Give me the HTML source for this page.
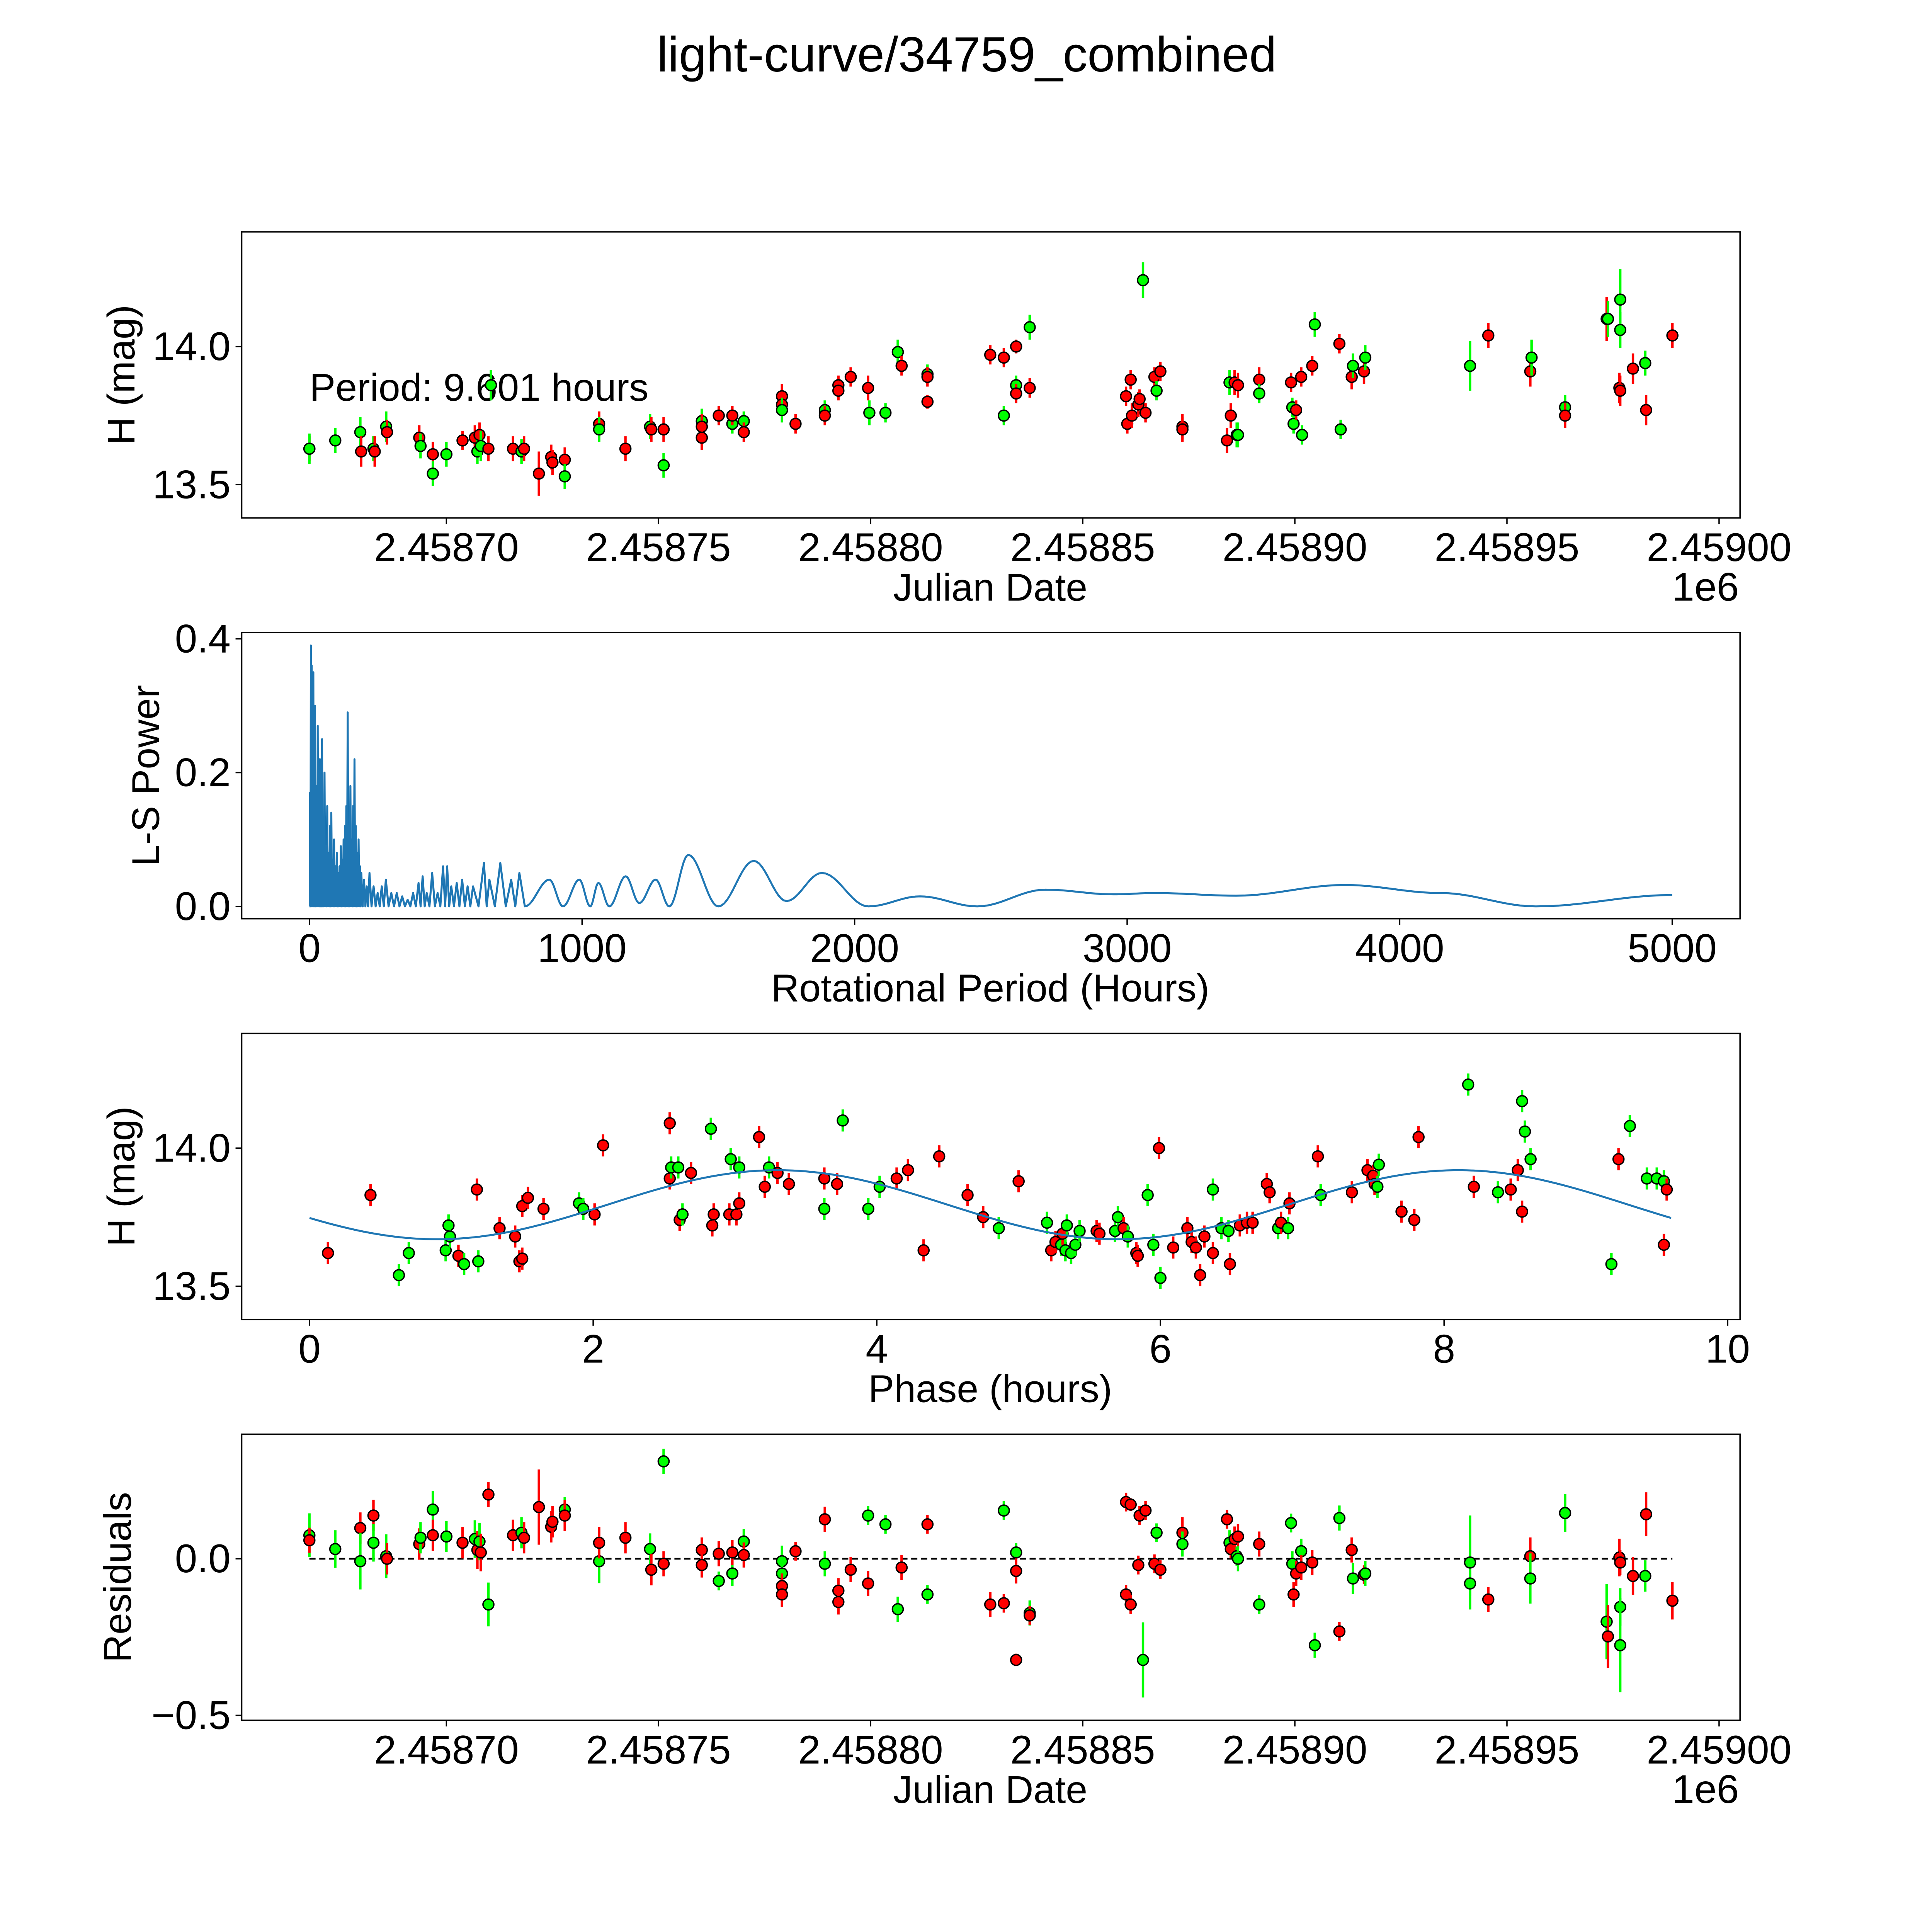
<!DOCTYPE html>
<html><head><meta charset="utf-8"><style>
html,body{margin:0;padding:0;background:#fff;width:5400px;height:5400px;overflow:hidden}
svg{display:block;position:absolute;left:0;top:0}
text{font-family:"Liberation Sans","DejaVu Sans",sans-serif;fill:#000}
</style></head><body>
<svg id="fig" xmlns="http://www.w3.org/2000/svg" width="5400" height="5400" viewBox="0 0 1692 1692">
<rect x="0" y="0" width="1692" height="1692" fill="#fff"/>
<text x="784" y="58" font-size="40" text-anchor="middle">light-curve/34759_combined</text>
</svg>
<script>
// ---- Panel 1 data: day offset from 2458700, mag, error, filter ----
const lcDays=[-3.23,-3.23,-2.62,-2.03,-2.01,-1.72,-1.69,-1.42,-1.40,-0.64,-0.61,-0.32,-0.32,0,0.38,0.67,0.73,0.78,0.81,0.99,1.05,1.57,1.77,1.83,2.18,2.47,2.50,2.79,2.79,3.60,3.60,4.22,4.80,4.83,5.12,5.12,6.02,6.02,6.02,6.42,6.74,6.74,7.01,7.01,7.91,7.91,7.91,8.23,8.92,8.92,9.24,9.24,9.53,9.94,9.97,10.35,10.64,10.73,11.34,11.34,11.34,12.82,13.14,13.14,13.43,13.43,13.43,13.75,13.75,16.02,16.05,16.13,16.16,16.31,16.34,16.42,16.48,16.69,16.74,16.83,17.35,17.35,18.40,18.46,18.49,18.58,18.63,18.66,18.66,19.16,19.16,19.91,19.94,19.97,20.03,20.15,20.17,20.41,20.47,21.05,21.08,21.34,21.37,21.63,21.66,24.13,24.56,25.55,25.58,26.37,26.37,27.35,27.38,27.65,27.67,27.67,27.67,27.97,28.26,28.28,28.90];
const lcMag=[13.63,13.63,13.66,13.69,13.62,13.63,13.62,13.71,13.69,13.67,13.64,13.61,13.54,13.61,13.66,13.67,13.62,13.68,13.64,13.63,13.86,13.63,13.62,13.63,13.54,13.60,13.58,13.59,13.53,13.72,13.70,13.63,13.71,13.70,13.70,13.57,13.73,13.71,13.67,13.75,13.72,13.75,13.73,13.69,13.82,13.79,13.77,13.72,13.77,13.75,13.86,13.84,13.89,13.85,13.76,13.76,13.98,13.93,13.90,13.89,13.80,13.97,13.96,13.75,14.00,13.86,13.83,14.07,13.85,13.82,13.72,13.88,13.75,13.79,13.81,14.24,13.76,13.89,13.84,13.91,13.71,13.70,13.66,13.87,13.75,13.87,13.68,13.68,13.86,13.88,13.83,13.87,13.78,13.72,13.77,13.89,13.68,13.93,14.08,14.01,13.70,13.89,13.93,13.91,13.96,13.93,14.04,13.91,13.96,13.78,13.75,14.10,14.10,13.85,13.84,14.17,14.06,13.92,13.94,13.77,14.04];
const lcErr=[0.045,0.055,0.045,0.055,0.055,0.045,0.055,0.055,0.045,0.045,0.045,0.045,0.045,0.045,0.035,0.045,0.045,0.045,0.055,0.045,0.055,0.045,0.045,0.045,0.08,0.045,0.045,0.045,0.045,0.045,0.045,0.045,0.045,0.045,0.045,0.045,0.045,0.045,0.045,0.035,0.035,0.035,0.035,0.035,0.045,0.045,0.045,0.035,0.035,0.035,0.035,0.035,0.035,0.045,0.045,0.035,0.045,0.035,0.035,0.035,0.025,0.035,0.035,0.035,0.025,0.035,0.035,0.045,0.035,0.035,0.035,0.035,0.045,0.045,0.035,0.065,0.035,0.035,0.035,0.035,0.045,0.045,0.045,0.045,0.045,0.045,0.045,0.045,0.045,0.045,0.035,0.035,0.035,0.035,0.035,0.035,0.035,0.035,0.045,0.035,0.035,0.045,0.045,0.045,0.045,0.09,0.045,0.055,0.065,0.045,0.045,0.08,0.065,0.055,0.055,0.11,0.065,0.055,0.045,0.055,0.045];
const lcBand=["r","g","g","g","r","g","r","g","r","r","g","r","g","g","r","r","g","r","g","r","g","r","g","r","r","r","r","r","g","r","g","r","g","r","r","g","g","r","r","r","g","r","g","r","r","r","g","r","g","r","r","r","r","r","g","g","g","r","g","r","r","r","r","g","r","g","r","g","r","r","r","r","r","r","r","g","r","r","g","r","r","r","r","g","r","r","g","g","r","r","g","r","g","g","r","r","g","r","g","r","g","r","g","r","g","g","r","r","g","g","r","r","g","r","r","g","g","r","g","r","r"];
// ---- Panel 2: Lomb-Scargle ----
const lsSpikeH=[2,5,8,11,14,17,20,23,26,30,34,38,42,46,50,55,60,65,70,75,80,85,90,95,100,105,110,115,120,125,130,135,140,145,150,155,160,165,170,175,180,185,190,200,210,220,235,250,265,280,300,320,340,360,380,400,415,430,450,470,490,505,520,540,560,580,600,640,660,700,740,770];
const lsSpikeP=[0.17,0.39,0.36,0.22,0.35,0.25,0.30,0.18,0.12,0.27,0.15,0.22,0.10,0.25,0.12,0.20,0.09,0.15,0.08,0.12,0.14,0.07,0.10,0.06,0.08,0.05,0.06,0.09,0.07,0.10,0.12,0.15,0.29,0.12,0.18,0.10,0.15,0.22,0.12,0.08,0.10,0.06,0.05,0.04,0.03,0.05,0.03,0.02,0.03,0.04,0.02,0.02,0.015,0.01,0.02,0.035,0.045,0.02,0.05,0.02,0.06,0.06,0.03,0.035,0.04,0.03,0.03,0.065,0.04,0.065,0.04,0.05];
const lsSmoothH=[790,880,930,990,1030,1060,1100,1160,1210,1270,1320,1390,1500,1630,1750,1880,2050,2240,2450,2700,2950,3100,3400,3800,4150,4500,5000];
const lsSmoothP=[0.0,0.04,0.0,0.04,0.0,0.035,0.0,0.045,0.005,0.04,0.0,0.077,0.0,0.068,0.008,0.05,0.0,0.015,0.0,0.025,0.018,0.02,0.016,0.032,0.02,0.0,0.017];
const lsTicksX=[0,1000,2000,3000,4000,5000], lsTicksY=[0.0,0.2,0.4];
// ---- Panel 3: phase folded ----
const phHours=[0.13,0.43,0.63,0.70,0.96,0.98,0.99,1.05,1.09,1.18,1.19,1.34,1.45,1.48,1.50,1.50,1.54,1.65,1.90,1.93,2.01,2.07,2.54,2.54,2.55,2.60,2.61,2.63,2.69,2.83,2.84,2.85,2.96,2.97,3.01,3.03,3.03,3.17,3.21,3.24,3.30,3.38,3.63,3.63,3.72,3.76,3.94,4.02,4.14,4.22,4.33,4.44,4.64,4.75,4.86,5.00,5.20,5.23,5.26,5.30,5.31,5.33,5.34,5.37,5.40,5.43,5.55,5.57,5.68,5.70,5.74,5.77,5.83,5.84,5.91,5.95,5.99,6.00,6.09,6.19,6.22,6.25,6.28,6.31,6.37,6.37,6.43,6.48,6.49,6.56,6.61,6.65,6.75,6.77,6.83,6.85,6.90,6.91,7.11,7.13,7.35,7.46,7.50,7.51,7.53,7.54,7.70,7.79,7.82,8.17,8.21,8.38,8.47,8.52,8.55,8.55,8.57,8.61,9.18,9.23,9.31,9.43,9.50,9.55,9.55,9.57];
const phMag=[13.62,13.83,13.54,13.62,13.63,13.72,13.68,13.61,13.58,13.85,13.59,13.71,13.68,13.59,13.60,13.79,13.82,13.78,13.80,13.78,13.76,14.01,14.09,13.89,13.93,13.93,13.74,13.76,13.91,14.07,13.72,13.76,13.76,13.96,13.76,13.93,13.80,14.04,13.86,13.93,13.91,13.87,13.78,13.89,13.87,14.10,13.78,13.86,13.89,13.92,13.63,13.97,13.83,13.75,13.71,13.88,13.73,13.63,13.66,13.65,13.69,13.63,13.72,13.62,13.65,13.70,13.70,13.69,13.70,13.75,13.71,13.68,13.62,13.61,13.83,13.65,14.00,13.53,13.64,13.71,13.66,13.64,13.54,13.68,13.85,13.62,13.71,13.70,13.58,13.72,13.73,13.73,13.87,13.84,13.71,13.73,13.71,13.80,13.97,13.83,13.84,13.92,13.90,13.87,13.86,13.94,13.77,13.74,14.04,14.23,13.86,13.84,13.85,13.92,13.77,14.17,14.06,13.96,13.58,13.96,14.08,13.89,13.89,13.88,13.65,13.85];
const phBand=["r","r","g","g","g","g","g","r","g","r","g","r","r","r","r","r","r","r","g","g","r","r","r","r","g","g","r","g","r","g","r","r","r","g","r","g","r","r","r","g","r","r","g","r","r","g","g","g","r","r","r","r","r","r","g","r","g","r","r","g","r","g","g","g","g","g","r","r","g","g","r","g","r","r","g","g","r","g","r","r","r","r","r","r","g","r","g","g","r","r","r","r","r","r","g","r","g","r","r","g","r","r","r","r","g","g","r","r","r","g","r","g","r","r","r","g","g","g","g","r","g","g","g","g","r","r"];
const phErr=0.04;
const modelMean=[13.795], modelAmp=[0.125], modelPeak=[3.3], modelPeriod=[9.601];
// ---- Panel 4: residuals ----
const rsDays=[-3.23,-3.23,-2.62,-2.03,-2.03,-1.72,-1.72,-1.42,-1.40,-0.64,-0.61,-0.32,-0.32,0,0.38,0.67,0.73,0.78,0.81,0.99,0.99,1.57,1.77,1.83,2.18,2.47,2.50,2.79,2.79,3.60,3.60,4.22,4.80,4.83,5.12,5.12,6.02,6.02,6.42,6.42,6.74,6.74,7.01,7.01,7.91,7.91,7.91,7.91,8.23,8.92,8.92,9.24,9.24,9.53,9.94,9.94,10.35,10.73,10.64,11.34,11.34,12.82,13.14,13.14,13.43,13.43,13.43,13.75,13.75,16.02,16.02,16.13,16.13,16.31,16.34,16.42,16.48,16.69,16.74,16.83,17.35,17.35,18.40,18.46,18.49,18.58,18.63,18.66,18.66,19.16,19.16,19.91,19.94,19.97,20.03,20.15,20.15,20.41,20.47,21.05,21.05,21.34,21.37,21.63,21.66,24.13,24.13,24.56,25.55,25.55,26.37,26.37,27.35,27.38,27.65,27.67,27.67,27.67,27.97,28.26,28.28,28.90];
const rsVal=[0.075,0.059,0.031,0.098,-0.008,0.138,0.051,0.008,0.0,0.047,0.067,0.157,0.075,0.071,0.051,0.063,0.028,0.055,0.020,0.205,-0.146,0.075,0.083,0.067,0.165,0.102,0.118,0.157,0.138,-0.008,0.051,0.067,0.031,-0.035,0.311,-0.016,0.028,-0.020,-0.071,0.016,-0.047,0.020,0.055,0.012,-0.008,-0.047,-0.087,-0.114,0.024,0.126,-0.016,-0.102,-0.138,-0.035,0.138,-0.079,0.110,-0.028,-0.161,0.110,-0.114,-0.146,-0.142,0.154,0.020,-0.039,-0.323,-0.173,-0.181,0.181,-0.114,0.173,-0.146,-0.020,0.138,-0.323,0.154,-0.016,0.083,-0.035,0.083,0.047,0.126,0.051,0.031,0.063,0.008,0.071,0.0,0.047,-0.146,0.114,-0.016,-0.114,-0.047,0.024,-0.028,-0.012,-0.276,0.130,-0.232,0.028,-0.063,-0.051,-0.047,-0.012,-0.079,-0.130,0.008,-0.063,0.146,0.146,-0.201,-0.248,0.004,-0.154,-0.276,-0.012,-0.055,-0.055,0.142,-0.134];
const rsBand=["g","r","g","r","g","r","g","g","r","r","g","g","r","g","r","g","r","g","r","r","g","r","g","r","r","r","r","g","r","g","r","r","g","r","g","r","r","r","g","r","g","r","g","r","g","g","r","r","r","r","g","r","r","r","g","r","g","r","g","r","g","r","r","g","g","r","r","g","r","r","r","r","r","r","r","g","r","r","g","r","r","g","r","g","r","r","g","r","g","r","g","g","g","r","r","g","r","r","g","g","r","r","g","r","g","g","g","r","r","g","r","g","g","r","r","g","g","r","r","g","r","r"];
const rsErr=[0.07,0.04,0.06,0.05,0.09,0.05,0.06,0.07,0.05,0.05,0.05,0.06,0.05,0.05,0.05,0.06,0.06,0.06,0.06,0.04,0.07,0.05,0.05,0.05,0.12,0.05,0.05,0.04,0.05,0.07,0.05,0.05,0.05,0.05,0.04,0.04,0.04,0.04,0.03,0.04,0.04,0.04,0.04,0.04,0.05,0.05,0.04,0.04,0.03,0.04,0.04,0.04,0.04,0.04,0.03,0.04,0.03,0.04,0.04,0.03,0.03,0.04,0.03,0.03,0.03,0.04,0.02,0.04,0.03,0.03,0.03,0.02,0.03,0.03,0.03,0.12,0.03,0.03,0.03,0.03,0.05,0.04,0.03,0.04,0.03,0.04,0.03,0.04,0.04,0.04,0.03,0.03,0.04,0.04,0.04,0.04,0.04,0.04,0.04,0.04,0.03,0.04,0.05,0.03,0.04,0.15,0.04,0.04,0.06,0.08,0.06,0.06,0.12,0.1,0.06,0.06,0.15,0.04,0.06,0.05,0.07,0.06];
const jdTicks=[0,5,10,15,20,25,30], jdTickLabels=["2.45870","2.45875","2.45880","2.45885","2.45890","2.45895","2.45900"];

const NS="http://www.w3.org/2000/svg";
const svg=document.getElementById('fig');
function mk(tag,attrs,parent){const e=document.createElementNS(NS,tag);for(const k in attrs)e.setAttribute(k,attrs[k]);(parent||svg).appendChild(e);return e;}
const RED="#ff0000", GRN="#00ff00";
const TF=32.5, LF=31.5;

function axesFrame(name){
  const g=mk('g',{});
  
  
  return g;
}
function frameRect(g,x0,y0,x1,y1){
  const r=mk('rect',{x:x0,y:y0,width:x1-x0,height:y1-y0,fill:'none',stroke:'#000','stroke-width':1.1},g);
  
  
}
function xTick(g,px,y1,label){
  const l=mk('line',{x1:px,x2:px,y1:y1,y2:y1+5,stroke:'#000','stroke-width':1.1},g);
  
  
  const t=mk('text',{x:px,y:y1+35,'font-size':TF,'text-anchor':'middle'},g);
  t.textContent=label;
  
  
}
function yTick(g,py,x0,label){
  const l=mk('line',{x1:x0-5,x2:x0,y1:py,y2:py,stroke:'#000','stroke-width':1.1},g);
  
  
  const t=mk('text',{x:x0-9,y:py+11,'font-size':TF,'text-anchor':'end'},g);
  t.textContent=label;
  
  
}
function labels(g,xl,yl,cx,xy,yx,cy){
  const t=mk('text',{x:cx,y:xy,'font-size':LF,'text-anchor':'middle'},g);
  t.textContent=xl;
  
  
  const u=mk('text',{x:yx,y:cy,'font-size':LF,'text-anchor':'middle',transform:`rotate(-90 ${yx} ${cy})`},g);
  u.textContent=yl;
  
  
}
function point(g,px,py,perr,band,name){
  const col=band==="r"?RED:GRN;
  const e=mk('line',{x1:px,x2:px,y1:py-perr,y2:py+perr,stroke:col,'stroke-width':2},g);
  
  
  const c=mk('circle',{cx:px,cy:py,r:4.4,fill:col,stroke:'#000','stroke-width':1.1},g);
  
  
}

const L=196,R=1411;
// ---------- Panel 1 ----------
(function(){
  const T=188,B=420;
  const xs=d=>362+d*34.4, ys=m=>281-(m-14)*224;
  const g=axesFrame('light-curve-panel');
  jdTicks.forEach((d,i)=>xTick(g,xs(d),B,jdTickLabels[i]));
  [13.5,14.0].forEach(v=>yTick(g,ys(v),L,v.toFixed(1)));
  labels(g,'Julian Date','H (mag)',803,487,109,(T+B)/2);
  const o=mk('text',{x:1383,y:487,'font-size':TF,'text-anchor':'middle'},g);
  o.textContent='1e6';
  
  
  const p=mk('text',{x:251,y:325,'font-size':31.5},g);
  p.textContent='Period: 9.601 hours';
  
  
  lcDays.forEach((d,i)=>point(g,xs(d),ys(lcMag[i]),lcErr[i]*224,lcBand[i],'lc-point'));
  frameRect(g,L,T,R,B);
})();
// ---------- Panel 2 ----------
(function(){
  const T=513,B=745;
  const xs=h=>251+h*0.221, ys=p=>735-p*542.5;
  const g=axesFrame('periodogram-panel');
  lsTicksX.forEach(v=>xTick(g,xs(v),B,String(v)));
  lsTicksY.forEach(v=>yTick(g,ys(v),L,v.toFixed(1)));
  labels(g,'Rotational Period (Hours)','L-S Power',803,812,129,(T+B)/2);
  let d=`M${xs(0)},${ys(0)}`;
  lsSpikeH.forEach((h,i)=>{const prev=i?lsSpikeH[i-1]:0;const mid=(prev+h)/2;
    d+=` L${xs(mid)},${ys(0)} L${xs(h)},${ys(lsSpikeP[i])}`;});
  d+=` L${xs(lsSmoothH[0])},${ys(lsSmoothP[0])}`;
  for(let i=1;i<lsSmoothH.length;i++){
    const h0=lsSmoothH[i-1],h1=lsSmoothH[i],p0=lsSmoothP[i-1],p1=lsSmoothP[i];
    for(let k=1;k<=12;k++){const t=k/12;const w=(1-Math.cos(Math.PI*t))/2;
      d+=` L${xs(h0+(h1-h0)*t).toFixed(2)},${ys(p0+(p1-p0)*w).toFixed(2)}`;}
  }
  const path=mk('path',{d:d,fill:'none',stroke:'#1f77b4','stroke-width':1.6,'stroke-linejoin':'round'},g);
  
  
  frameRect(g,L,T,R,B);
})();
// ---------- Panel 3 ----------
(function(){
  const T=838,B=1070;
  const xs=h=>251+h*115, ys=m=>931-(m-14)*224;
  const g=axesFrame('phase-folded-panel');
  [0,2,4,6,8,10].forEach(v=>xTick(g,xs(v),B,String(v)));
  [13.5,14.0].forEach(v=>yTick(g,ys(v),L,v.toFixed(1)));
  labels(g,'Phase (hours)','H (mag)',803,1137,109,(T+B)/2);
  phHours.forEach((h,i)=>point(g,xs(h),ys(phMag[i]),phErr*224,phBand[i],'phase-point'));
  let d='';
  for(let k=0;k<=200;k++){const h=modelPeriod[0]*k/200;
    const m=modelMean[0]+modelAmp[0]*Math.cos(2*Math.PI*(h-modelPeak[0])/(modelPeriod[0]/2));
    d+=(k?' L':'M')+xs(h).toFixed(2)+','+ys(m).toFixed(2);}
  const path=mk('path',{d:d,fill:'none',stroke:'#1f77b4','stroke-width':1.6},g);
  
  
  frameRect(g,L,T,R,B);
})();
// ---------- Panel 4 ----------
(function(){
  const T=1163,B=1395;
  const xs=d=>362+d*34.4, ys=r=>1264-r*254;
  const g=axesFrame('residuals-panel');
  jdTicks.forEach((d,i)=>xTick(g,xs(d),B,jdTickLabels[i]));
  yTick(g,ys(-0.5),L,'\u22120.5'); yTick(g,ys(0),L,'0.0');
  labels(g,'Julian Date','Residuals',803,1462,106,(T+B)/2);
  const o=mk('text',{x:1383,y:1462,'font-size':TF,'text-anchor':'middle'},g);
  o.textContent='1e6';
  
  
  const z=mk('line',{x1:xs(lcDays[0]),x2:xs(lcDays[lcDays.length-1]),y1:ys(0),y2:ys(0),stroke:'#000','stroke-width':1.4,'stroke-dasharray':'5,3'},g);
  
  
  rsDays.forEach((d,i)=>point(g,xs(d),ys(rsVal[i]),rsErr[i]*254,rsBand[i],'residual-point'));
  frameRect(g,L,T,R,B);
})();
</script>
</body></html>
